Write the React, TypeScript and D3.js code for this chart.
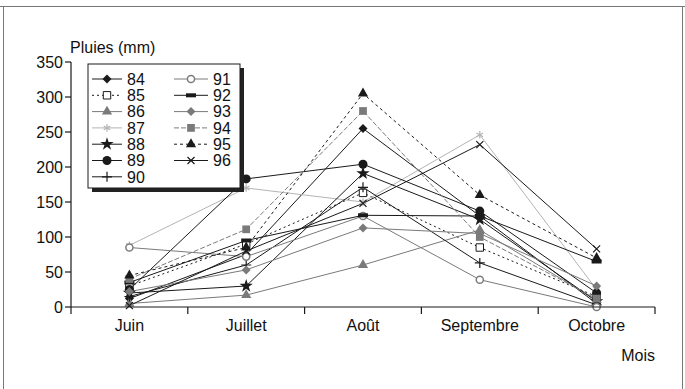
import React from "react";
import * as d3 from "d3";

// Rainfall per month, seasons 1984-1996
const months = ["Juin", "Juillet", "Août", "Septembre", "Octobre"];
const years = ["84", "85", "86", "87", "88", "89", "90", "91", "92", "93", "94", "95", "96"];

const s84 = [12, 75, 255, 130, 5];
const s85 = [30, 90, 163, 85, 15];
const s86 = [5, 17, 60, 110, 10];
const s87 = [88, 170, 150, 246, 25];
const s88 = [20, 30, 191, 125, 8];
const s89 = [25, 183, 204, 137, 20];
const s90 = [15, 60, 171, 63, 3];
const s91 = [85, 72, 130, 39, 0];
const s92 = [35, 95, 131, 130, 65];
const s93 = [22, 53, 113, 105, 30];
const s94 = [40, 111, 280, 100, 12];
const s95 = [45, 85, 305, 160, 70];
const s96 = [2, 80, 148, 232, 83];

const yTicks = [0, 50, 100, 150, 200, 250, 300, 350];

const BLACK = "#1a1a1a";
const GRAY = "#7a7a7a";
const LIGHT = "#b4b4b4";

type Style = { color: string; dash?: string; marker: string };
const styles: Style[] = [
  { color: BLACK, marker: "diamond" },
  { color: BLACK, dash: "2,3", marker: "squareOpen" },
  { color: GRAY, marker: "triangle" },
  { color: LIGHT, marker: "asterisk" },
  { color: BLACK, marker: "star" },
  { color: BLACK, marker: "circle" },
  { color: BLACK, marker: "plus" },
  { color: GRAY, marker: "circleOpen" },
  { color: BLACK, marker: "bar" },
  { color: GRAY, marker: "diamond" },
  { color: GRAY, dash: "5,2", marker: "square" },
  { color: BLACK, dash: "3,3", marker: "triangle" },
  { color: BLACK, marker: "x" },
];
const seriesValues = [s84, s85, s86, s87, s88, s89, s90, s91, s92, s93, s94, s95, s96];

const FONT = "'Liberation Sans', Arial, sans-serif";

function Marker({ type, x, y, color }: { type: string; x: number; y: number; color: string }) {
  const sym = (t: d3.SymbolType, size: number) => d3.symbol(t, size)() as string;
  const tr = `translate(${x},${y})`;
  switch (type) {
    case "diamond":
      return <path transform={tr} d="M0,-4.5L4.5,0L0,4.5L-4.5,0Z" fill={color} />;
    case "squareOpen":
      return <path transform={tr} d={sym(d3.symbolSquare, 55)} fill="white" stroke={color} strokeWidth={1} />;
    case "square":
      return <path transform={tr} d={sym(d3.symbolSquare, 60)} fill={color} />;
    case "triangle":
      return <path transform={tr} d={sym(d3.symbolTriangle, 45)} fill={color} />;
    case "star":
      return <path transform={tr} d={sym(d3.symbolStar, 55)} fill={color} />;
    case "circle":
      return <path transform={tr} d={sym(d3.symbolCircle, 64)} fill={color} />;
    case "circleOpen":
      return <path transform={tr} d={sym(d3.symbolCircle, 40)} fill="white" stroke={color} strokeWidth={1.5} />;
    case "asterisk":
      return <path transform={tr} d={sym(d3.symbolAsterisk, 40)} stroke={color} strokeWidth={1.2} fill="none" />;
    case "plus":
      return <path transform={tr} d="M-5,0H5M0,-5V5" stroke={color} strokeWidth={1.2} />;
    case "x":
      return <path transform={tr} d="M-3.5,-3.5L3.5,3.5M-3.5,3.5L3.5,-3.5" stroke={color} strokeWidth={1.2} />;
    case "bar":
      return <rect x={x - 5} y={y - 2} width={10} height={4} fill={color} />;
    default:
      return null;
  }
}

export default function App() {
  const width = 685;
  const height = 389;
  const left = 71;
  const right = 655;
  const top = 62;
  const bottom = 307;

  const x = d3.scaleBand<string>().domain(months).range([left, right]);
  const y = d3.scaleLinear().domain([0, 350]).range([bottom, top]);
  const cx = (m: string) => (x(m) as number) + x.bandwidth() / 2;

  const line = d3
    .line<number>()
    .x((_, i) => cx(months[i]))
    .y((d) => y(d));

  const boundaries = months.map((m) => x(m) as number).concat([right]);

  const legX = 88;
  const legY = 64;
  const legW = 152;
  const legH = 124;
  const rowH = 16.3;

  return (
    <svg
      width={width}
      height={height}
      style={{ position: "absolute", left: 0, top: 0, background: "white" }}
      fontFamily={FONT}
    >
      {/* outer frame */}
      <path d={`M0,6.5H${width}M3.5,6.5V${height}M682.5,6.5V${height}`} stroke="#777" strokeWidth={1} fill="none" />

      {/* series */}
      {seriesValues.map((vals, i) => (
        <path
          key={"l" + i}
          d={line(vals) as string}
          fill="none"
          stroke={styles[i].color}
          strokeWidth={1}
          strokeDasharray={styles[i].dash}
        />
      ))}
      {seriesValues.map((vals, i) =>
        vals.map((v, j) => (
          <Marker key={`m${i}-${j}`} type={styles[i].marker} x={cx(months[j])} y={y(v)} color={styles[i].color} />
        ))
      )}

      {/* axes */}
      <line x1={left} x2={left} y1={top} y2={bottom} stroke={BLACK} strokeWidth={1.2} />
      <line x1={left} x2={right} y1={bottom} y2={bottom} stroke={BLACK} strokeWidth={1.2} />
      {yTicks.map((t) => (
        <g key={"yt" + t}>
          <line x1={left - 6} x2={left} y1={y(t)} y2={y(t)} stroke={BLACK} strokeWidth={1.2} />
          <text x={left - 8} y={y(t)} dy="0.35em" textAnchor="end" fontSize={16} fill="#111">
            {t}
          </text>
        </g>
      ))}
      {boundaries.map((b, i) => (
        <line key={"xt" + i} x1={b} x2={b} y1={bottom} y2={bottom + 7} stroke={BLACK} strokeWidth={1.2} />
      ))}
      {months.map((m) => (
        <text key={"xl" + m} x={cx(m)} y={331} textAnchor="middle" fontSize={16} fill="#111">
          {m}
        </text>
      ))}
      <text x={70} y={53} fontSize={16} fill="#111">
        Pluies (mm)
      </text>
      <text x={655} y={361} textAnchor="end" fontSize={16} fill="#111">
        Mois
      </text>

      {/* legend */}
      <rect x={legX + 4} y={legY + 4} width={legW} height={legH} fill="#222" />
      <rect x={legX} y={legY} width={legW} height={legH} fill="white" stroke={BLACK} strokeWidth={1} />
      {years.map((yr, i) => {
        const col = i < 7 ? 0 : 1;
        const row = i < 7 ? i : i - 7;
        const ly = legY + 15 + row * rowH;
        const x0 = col === 0 ? legX + 4 : legX + 86;
        const x1 = col === 0 ? legX + 34 : legX + 120;
        const st = styles[i];
        return (
          <g key={"lg" + yr}>
            <line x1={x0} x2={x1} y1={ly} y2={ly} stroke={st.color} strokeWidth={1} strokeDasharray={st.dash} />
            <Marker type={st.marker} x={(x0 + x1) / 2} y={ly} color={st.color} />
            <text x={x1 + 5} y={ly} dy="0.36em" fontSize={16} fill="#111">
              {yr}
            </text>
          </g>
        );
      })}
    </svg>
  );
}
